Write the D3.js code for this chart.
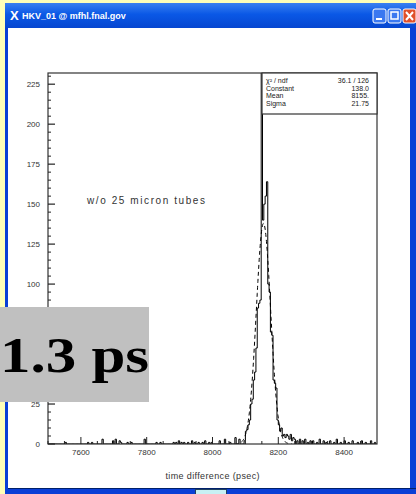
<!DOCTYPE html>
<html>
<head>
<meta charset="utf-8">
<script src="https://cdn.jsdelivr.net/npm/d3@7"></script>
<style>
body { margin: 0; background: #fff; overflow: hidden; }
</style>
</head>
<body>
<svg id="c" width="416" height="494"></svg>
<script>
// ---- data ----
const windowTitle = "HKV_01 @ mfhl.fnal.gov";
const xTicks = [7600, 7800, 8000, 8200, 8400];
const yTicks = [0, 25, 50, 75, 100, 125, 150, 175, 200, 225];
const xTitle = "time difference (psec)";
const note = "w/o 25 micron tubes";
const bigLabel = "1.3 ps";

// histogram: low edge of each non-empty bin and its count (bin width 4)
const binEdges = [7552, 7620, 7632, 7664, 7696, 7704, 7716, 7720, 7740, 7752, 7792, 7828, 7840,
  7880, 7888, 7896, 7904, 7912, 7924, 7936, 7944, 7956, 7968, 7976, 7988, 7996,
  8020, 8036, 8052, 8068, 8080,
  8096, 8100, 8104, 8108, 8112, 8116, 8120, 8124, 8128, 8132, 8136, 8140, 8144, 8148,
  8152, 8156, 8160, 8164, 8168, 8172, 8176, 8180, 8184, 8188, 8192, 8196, 8200, 8204, 8208, 8212,
  8216, 8220, 8224, 8228, 8232, 8236, 8240, 8244, 8248, 8256, 8264, 8272, 8280, 8288, 8296,
  8304, 8316, 8324, 8336, 8344, 8356, 8368, 8376, 8388, 8400, 8412, 8424, 8440, 8452, 8464, 8480, 8492];
const binCounts = [1, 1, 1, 3, 2, 3, 2, 1, 1, 1, 3, 1, 1,
  1, 1, 2, 1, 1, 1, 2, 1, 1, 1, 2, 1, 1,
  2, 3, 1, 4, 3,
  2, 8, 9, 12, 15, 25, 28, 40, 45, 60, 85, 88, 90, 240,
  140, 150, 155, 164, 100, 95, 70, 68, 40, 38, 35, 15, 12, 8, 10, 5,
  6, 4, 6, 5, 3, 6, 2, 4, 3, 2, 3, 2, 3, 1, 2,
  2, 1, 3, 2, 1, 2, 1, 3, 1, 2, 1, 2, 1, 2, 1, 2, 1];
const binWidth = 4;
const xRange = [7500, 8500];
const yRange = [0, 232];

// gaussian fit parameters
const fitConstant = 138.0;
const fitMean = 8155.0;
const fitSigma = 21.75;
const statRows = [["\u03c7\u00b2 / ndf", "36.1 / 126"], ["Constant", "138.0"], ["Mean", "8155."], ["Sigma", "21.75"]];

const sans = "'Liberation Sans', Arial, sans-serif";

// ---- window chrome ----
const svg = d3.select("#c").style("font-family", sans);
svg.append("rect").attr("width", 416).attr("height", 494).attr("fill", "#ffffb8");
svg.append("rect").attr("x", 5).attr("y", 3).attr("width", 411).attr("height", 491).attr("fill", "#0a3fd6");
const defs = svg.append("defs");
const tg = defs.append("linearGradient").attr("id", "tb").attr("x1", 0).attr("x2", 0).attr("y1", 0).attr("y2", 1);
tg.append("stop").attr("offset", "0%").attr("stop-color", "#3a80f0");
tg.append("stop").attr("offset", "45%").attr("stop-color", "#0a58e6");
tg.append("stop").attr("offset", "100%").attr("stop-color", "#0646d0");
svg.append("rect").attr("x", 5).attr("y", 3).attr("width", 411).attr("height", 25).attr("fill", "url(#tb)");
svg.append("rect").attr("x", 8).attr("y", 28).attr("width", 402).attr("height", 460).attr("fill", "#fff");
svg.append("text").attr("x", 10).attr("y", 20).attr("fill", "#fff").attr("font-size", 13).attr("font-weight", "bold").text("X");
svg.append("text").attr("x", 22).attr("y", 19).attr("fill", "#fff").attr("font-size", 9).attr("font-weight", "bold").text(windowTitle);
[[373, "#3a78f0"], [388, "#3a78f0"], [403, "#e0502a"]].forEach(([bx, col]) => {
  svg.append("rect").attr("x", bx).attr("y", 9).attr("width", 13).attr("height", 14).attr("rx", 2)
    .attr("fill", col).attr("stroke", "#fff").attr("stroke-width", 1);
});
svg.append("rect").attr("x", 376).attr("y", 18).attr("width", 6).attr("height", 2).attr("fill", "#fff");
svg.append("rect").attr("x", 391).attr("y", 12).attr("width", 7).attr("height", 7).attr("fill", "none").attr("stroke", "#fff").attr("stroke-width", 1.5);
svg.append("path").attr("d", "M406,12L413,20M413,12L406,20").attr("stroke", "#fff").attr("stroke-width", 2);
svg.append("line").attr("x1", 8).attr("x2", 416).attr("y1", 488.5).attr("y2", 488.5).attr("stroke", "#00206a");
svg.append("rect").attr("x", 195.5).attr("y", 489.5).attr("width", 31).attr("height", 6).attr("fill", "#c8f0f4").attr("stroke", "#204060");

// ---- plot ----
const m = { left: 48, top: 73, right: 377, bottom: 444 };
const x = d3.scaleLinear().domain(xRange).range([m.left, m.right]);
const y = d3.scaleLinear().domain(yRange).range([m.bottom, m.top]);

defs.append("clipPath").attr("id", "fr")
  .append("rect").attr("x", m.left).attr("y", m.top).attr("width", m.right - m.left).attr("height", m.bottom - m.top);

// full list of bins from the sparse table
const countAt = new Map(binEdges.map((e, i) => [e, binCounts[i]]));
const bins = d3.range(xRange[0], xRange[1], binWidth).map(e => ({ lo: e, n: countAt.get(e) || 0 }));
const steps = [];
bins.forEach(b => { steps.push([b.lo, b.n]); steps.push([b.lo + binWidth, b.n]); });

const g = svg.append("g").attr("clip-path", "url(#fr)");
g.append("path")
  .attr("d", d3.line().x(d => x(d[0])).y(d => y(d[1]))(steps))
  .attr("fill", "none").attr("stroke", "#000").attr("stroke-width", 1);

const gauss = v => fitConstant * Math.exp(-0.5 * ((v - fitMean) / fitSigma) ** 2);
const fitPts = d3.range(fitMean - 4 * fitSigma, fitMean + 4 * fitSigma, 1).map(v => [v, gauss(v)]);
g.append("path")
  .attr("d", d3.line().x(d => x(d[0])).y(d => y(d[1]))(fitPts))
  .attr("fill", "none").attr("stroke", "#000").attr("stroke-width", 1).attr("stroke-dasharray", "4,3");

// frame
svg.append("rect").attr("x", m.left).attr("y", m.top).attr("width", m.right - m.left).attr("height", m.bottom - m.top)
  .attr("fill", "none").attr("stroke", "#333").attr("stroke-width", 1.2);

// y axis ticks (ROOT style, inside the frame)
const yMinor = d3.range(0, yRange[1], 5).filter(v => v % 25 !== 0);
svg.append("g").selectAll("line").data(yTicks).join("line")
  .attr("x1", m.left).attr("x2", m.left + 7).attr("y1", d => y(d)).attr("y2", d => y(d)).attr("stroke", "#222").attr("stroke-width", 1.2);
svg.append("g").selectAll("line").data(yMinor).join("line")
  .attr("x1", m.left).attr("x2", m.left + 3).attr("y1", d => y(d)).attr("y2", d => y(d)).attr("stroke", "#222");
svg.append("g").selectAll("text").data(yTicks).join("text")
  .attr("x", m.left - 8).attr("y", d => y(d) + 3).attr("text-anchor", "end")
  .attr("font-size", 8).attr("fill", "#333").text(d => d);

// x axis
const xMinor = d3.range(xRange[0], xRange[1], 50).filter(v => v % 200 !== 0);
svg.append("g").selectAll("line").data(xTicks).join("line")
  .attr("x1", d => x(d)).attr("x2", d => x(d)).attr("y1", m.bottom).attr("y2", m.bottom - 7).attr("stroke", "#222");
svg.append("g").selectAll("line").data(xMinor).join("line")
  .attr("x1", d => x(d)).attr("x2", d => x(d)).attr("y1", m.bottom).attr("y2", m.bottom - 3).attr("stroke", "#222");
svg.append("g").selectAll("text").data(xTicks).join("text")
  .attr("x", d => x(d)).attr("y", 455).attr("text-anchor", "middle")
  .attr("font-size", 8).attr("fill", "#333").text(d => d);
svg.append("text").attr("x", (m.left + m.right) / 2).attr("y", 479).attr("text-anchor", "middle")
  .attr("font-size", 9).attr("textLength", 94).attr("lengthAdjust", "spacing").attr("fill", "#333").text(xTitle);

// stats box
const sb = { x: 262, y: 73, w: 115, h: 41 };
svg.append("rect").attr("x", sb.x).attr("y", sb.y).attr("width", sb.w).attr("height", sb.h)
  .attr("fill", "#fff").attr("stroke", "#333").attr("stroke-width", 1.2);
statRows.forEach(([k, v], i) => {
  svg.append("text").attr("x", sb.x + 4).attr("y", sb.y + 10 + i * 7.5).attr("font-size", 7).attr("fill", "#222").text(k);
  svg.append("text").attr("x", sb.x + sb.w - 8).attr("y", sb.y + 10 + i * 7.5).attr("text-anchor", "end")
    .attr("font-size", 7).attr("fill", "#222").text(v);
});

// annotation
svg.append("text").attr("x", 87).attr("y", 204).attr("font-size", 10).attr("textLength", 118).attr("lengthAdjust", "spacing")
  .attr("fill", "#333").text(note);

// big label box
svg.append("rect").attr("x", 0).attr("y", 307).attr("width", 149).attr("height", 95).attr("fill", "#c0c0c0");
svg.append("text").attr("x", 0).attr("y", 372).style("font-family", "'Liberation Serif', 'Times New Roman', serif").attr("font-weight", "bold")
  .attr("font-size", 50).attr("textLength", 149).attr("lengthAdjust", "spacingAndGlyphs").attr("fill", "#000").text(bigLabel);
</script>
</body>
</html>
